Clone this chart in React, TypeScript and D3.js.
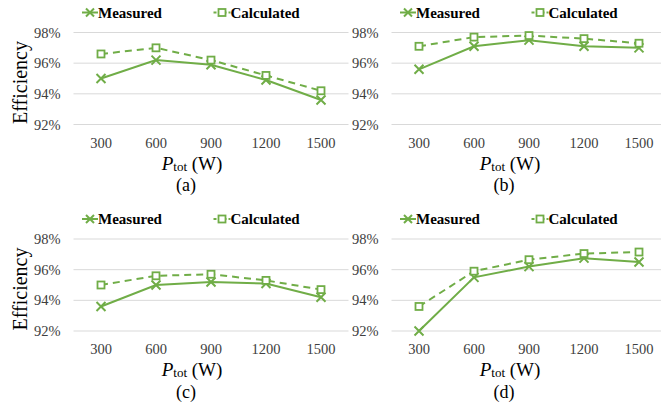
import React from "react";
import * as d3 from "d3";

const categories = ["300", "600", "900", "1200", "1500"];
const yTicks = [92, 94, 96, 98];
const seriesNames = ["Measured", "Calculated"];
const panelLabels = ["(a)", "(b)", "(c)", "(d)"];

const measuredA = [95.0, 96.2, 95.9, 94.9, 93.6];
const calculatedA = [96.6, 97.0, 96.2, 95.2, 94.2];
const measuredB = [95.6, 97.1, 97.5, 97.1, 97.0];
const calculatedB = [97.1, 97.7, 97.8, 97.6, 97.3];
const measuredC = [93.6, 95.0, 95.2, 95.1, 94.2];
const calculatedC = [95.0, 95.6, 95.7, 95.3, 94.7];
const measuredD = [92.0, 95.5, 96.2, 96.75, 96.5];
const calculatedD = [93.6, 95.9, 96.65, 97.05, 97.15];

const GREEN = "#70AD47";
const serif = { fontFamily: "Liberation Serif" };

const panels = [
  { label: panelLabels[0], measured: measuredA, calculated: calculatedA, col: 0, row: 0 },
  { label: panelLabels[1], measured: measuredB, calculated: calculatedB, col: 1, row: 0 },
  { label: panelLabels[2], measured: measuredC, calculated: calculatedC, col: 0, row: 1 },
  { label: panelLabels[3], measured: measuredD, calculated: calculatedD, col: 1, row: 1 },
];

const PLOT_W = 275;
const PLOT_H = 92;

function XMarker({ x, y, s = 4.5 }: { x: number; y: number; s?: number }) {
  return (
    <path
      d={`M${x - s},${y - s}L${x + s},${y + s}M${x - s},${y + s}L${x + s},${y - s}`}
      stroke={GREEN}
      strokeWidth={2}
      fill="none"
    />
  );
}

function SquareMarker({ x, y, s = 3.5 }: { x: number; y: number; s?: number }) {
  return (
    <rect x={x - s} y={y - s} width={2 * s} height={2 * s} fill="white" stroke={GREEN} strokeWidth={1.8} />
  );
}

function Panel({ p }: { p: (typeof panels)[number] }) {
  const x0 = p.col === 0 ? 73.5 : 391.5;
  const y0 = p.row === 0 ? 32.5 : 239;
  const x = d3.scaleBand<string>().domain(categories).range([x0, x0 + PLOT_W]);
  const y = d3.scaleLinear().domain([92, 98]).range([y0 + PLOT_H, y0]);
  const cx = (c: string) => (x(c) as number) + x.bandwidth() / 2;
  const line = d3
    .line<number>()
    .x((_, i) => cx(categories[i]))
    .y((v) => y(v));
  const titleX = x0 + 118.5;
  const legendY = y0 - 20;
  const lx = x0 + 8.5;
  const cx2 = x0 + 140;

  return (
    <g>
      {yTicks.map((t) => (
        <g key={t}>
          <line x1={x0} x2={x0 + PLOT_W} y1={y(t)} y2={y(t)} stroke="#D9D9D9" strokeWidth={1} />
          <text
            x={x0 - 13}
            y={y(t)}
            textAnchor="end"
            dominantBaseline="central"
            fontSize={14.5}
            fill="#404040"
            style={serif}
          >
            {t}%
          </text>
        </g>
      ))}
      {categories.map((c) => (
        <text
          key={c}
          x={cx(c)}
          y={y0 + 110}
          textAnchor="middle"
          dominantBaseline="central"
          fontSize={14.5}
          fill="#404040"
          style={serif}
        >
          {c}
        </text>
      ))}
      <path d={line(p.calculated) || ""} fill="none" stroke={GREEN} strokeWidth={2} strokeDasharray="7,5" />
      <path d={line(p.measured) || ""} fill="none" stroke={GREEN} strokeWidth={2} />
      {p.measured.map((v, i) => (
        <XMarker key={"m" + i} x={cx(categories[i])} y={y(v)} />
      ))}
      {p.calculated.map((v, i) => (
        <SquareMarker key={"c" + i} x={cx(categories[i])} y={y(v)} />
      ))}

      {/* legend */}
      <line x1={lx} x2={lx + 16} y1={legendY} y2={legendY} stroke={GREEN} strokeWidth={2} />
      <XMarker x={lx + 8} y={legendY} s={4} />
      <text x={lx + 16} y={legendY} dominantBaseline="central" fontSize={15} fontWeight="bold" fill="#000" style={serif}>
        {seriesNames[0]}
      </text>
      <line x1={cx2} x2={cx2 + 17} y1={legendY} y2={legendY} stroke={GREEN} strokeWidth={2} strokeDasharray="3,2" />
      <SquareMarker x={cx2 + 8.5} y={legendY} s={3.5} />
      <text x={cx2 + 17} y={legendY} dominantBaseline="central" fontSize={15} fontWeight="bold" fill="#000" style={serif}>
        {seriesNames[1]}
      </text>

      {/* axis title */}
      <text x={titleX} y={y0 + 130} textAnchor="middle" dominantBaseline="central" fill="#000" style={serif}>
        <tspan fontSize={19} fontStyle="italic">P</tspan>
        <tspan fontSize={13} dy={3}>tot</tspan>
        <tspan fontSize={19} dy={-3}> (W)</tspan>
      </text>
      <text x={titleX - 6} y={y0 + 152.5} textAnchor="middle" dominantBaseline="central" fontSize={18} fill="#000" style={serif}>
        {p.label}
      </text>
      {p.col === 0 && (
        <text
          transform={`translate(20,${y0 + 50}) rotate(-90)`}
          textAnchor="middle"
          dominantBaseline="central"
          fontSize={20}
          fill="#000"
          style={serif}
        >
          Efficiency
        </text>
      )}
    </g>
  );
}

export default function App() {
  return (
    <svg
      width={661}
      height={406}
      viewBox="0 0 661 406"
      style={{ position: "absolute", left: 0, top: 0, background: "white" }}
    >
      <rect width={661} height={406} fill="white" />
      {panels.map((p) => (
        <Panel key={p.label} p={p} />
      ))}
    </svg>
  );
}
